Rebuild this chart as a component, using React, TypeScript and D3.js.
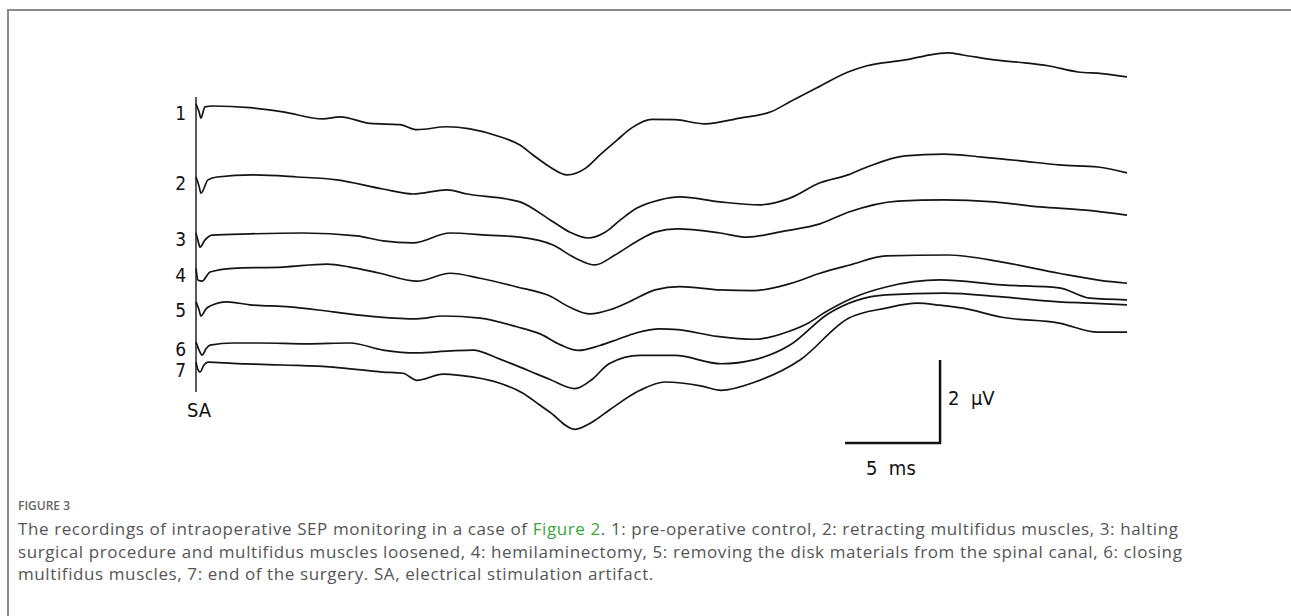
import * as d3 from "d3";
import { useEffect, useRef } from "react";

// time (ms) vs amplitude (µV); each trace relative to its own start level
const trace1: [number, number][] = [
  [0, 0.07], [0.16, -0.12], [0.26, -0.27], [0.47, 0], [0.89, 0.02], [2.84, -0.02], [4.58, -0.12],
  [6.68, -0.29], [7.58, -0.24], [9.16, -0.4], [10.74, -0.43], [11.63, -0.55], [13.21, -0.48],
  [14.42, -0.53], [16.0, -0.72], [17.05, -0.92], [17.74, -1.16], [18.63, -1.45], [19.53, -1.64],
  [20.53, -1.47], [21.26, -1.16], [22.16, -0.8], [22.95, -0.5], [24.0, -0.3], [25.21, -0.31],
  [26.79, -0.41], [28.63, -0.27], [30.26, -0.12], [31.26, 0.12], [32.68, 0.46], [34.32, 0.84],
  [35.32, 0.99], [37.32, 1.13], [38.37, 1.23], [39.58, 1.3], [40.37, 1.25], [42.0, 1.13],
  [43.63, 1.06], [44.84, 0.99], [46.42, 0.84], [47.68, 0.8], [49.0, 0.72],
];
const trace2: [number, number][] = [
  [0, 0], [0.16, -0.22], [0.26, -0.39], [0.63, -0.07], [1.11, 0], [3.0, 0.05], [5.32, 0],
  [7.42, -0.07], [9.84, -0.29], [11.42, -0.41], [13.21, -0.31], [14.26, -0.41], [16.37, -0.53],
  [17.05, -0.6], [18.79, -1.08], [19.68, -1.33], [20.63, -1.47], [21.53, -1.33], [22.32, -1.04],
  [23.21, -0.75], [24.42, -0.55], [25.47, -0.48], [27.58, -0.6], [29.68, -0.67], [31.26, -0.51],
  [32.84, -0.14], [34.32, 0.05], [35.32, 0.24], [37.32, 0.51], [39.37, 0.55], [41.37, 0.48],
  [43.42, 0.39], [45.42, 0.29], [47.47, 0.24], [49.0, 0.1],
];
const trace3: [number, number][] = [
  [0, 0], [0.11, -0.19], [0.21, -0.34], [0.47, -0.17], [0.84, -0.05], [2.84, -0.02], [5.63, 0],
  [8.47, -0.07], [9.84, -0.19], [11.42, -0.24], [13.37, 0], [15.32, -0.05], [17.05, -0.1],
  [18.79, -0.29], [19.95, -0.6], [21.0, -0.77], [22.05, -0.53], [23.21, -0.2], [24.16, 0.02],
  [25.32, 0.1], [27.58, 0], [29.0, -0.1], [31.0, 0.05], [32.84, 0.22], [34.32, 0.5],
  [36.95, 0.77], [39.37, 0.8], [42.0, 0.75], [44.42, 0.63], [46.84, 0.55], [49.0, 0.43],
];
const trace4: [number, number][] = [
  [0, 0.02], [0.11, -0.27], [0.32, -0.29], [0.74, -0.07], [1.95, 0.02], [4.58, 0.05], [6.89, 0.12],
  [8.11, 0.05], [9.68, -0.1], [11.63, -0.29], [13.37, -0.1], [14.95, -0.22], [16.89, -0.43],
  [18.63, -0.65], [19.68, -0.92], [20.74, -1.08], [21.79, -0.98], [22.84, -0.78], [24.16, -0.5],
  [25.47, -0.42], [27.58, -0.5], [29.32, -0.52], [31.26, -0.35], [32.84, -0.1], [34.42, 0.1],
  [36.32, 0.32], [39.58, 0.34], [42.42, 0.17], [45.42, -0.1], [47.58, -0.27], [49.0, -0.34],
];
const trace5: [number, number][] = [
  [0, 0.05], [0.16, -0.14], [0.26, -0.29], [0.53, -0.12], [0.74, -0.05], [1.63, 0.05], [2.84, -0.02],
  [4.95, -0.07], [7.21, -0.19], [9.53, -0.31], [11.63, -0.36], [13.0, -0.29], [14.95, -0.34],
  [16.89, -0.55], [18.11, -0.72], [19.16, -0.98], [20.11, -1.12], [21.26, -1.0], [22.21, -0.85],
  [23.16, -0.7], [24.42, -0.6], [25.37, -0.62], [27.42, -0.78], [29.42, -0.85], [31.26, -0.65],
  [32.26, -0.45], [33.11, -0.2], [34.68, 0.17], [36.32, 0.41], [39.16, 0.58], [42.42, 0.46],
  [45.42, 0.39], [47.05, 0.14], [49.0, 0.1],
];
const trace6: [number, number][] = [
  [0, 0.02], [0.16, -0.17], [0.32, -0.29], [0.53, -0.14], [0.74, -0.05], [1.95, 0], [3.37, 0],
  [5.84, -0.02], [8.11, 0], [9.84, -0.17], [11.63, -0.24], [13.37, -0.19], [14.58, -0.17],
  [16.0, -0.39], [17.42, -0.65], [18.63, -0.88], [19.95, -1.1], [20.84, -0.88], [21.74, -0.5],
  [23.37, -0.3], [25.21, -0.3], [27.63, -0.5], [29.42, -0.4], [31.26, -0.05], [33.26, 0.7],
  [36.32, 1.16], [39.37, 1.2], [42.42, 1.11], [45.42, 0.99], [47.05, 0.96], [49.0, 0.92],
];
const trace7: [number, number][] = [
  [0, 0.05], [0.11, -0.14], [0.21, -0.19], [0.42, -0.02], [0.63, 0.05], [1.95, 0.02], [4.58, -0.02],
  [7.21, -0.07], [9.84, -0.19], [10.89, -0.22], [11.63, -0.39], [13.0, -0.24], [13.89, -0.27],
  [16.0, -0.46], [17.21, -0.7], [18.11, -0.99], [18.63, -1.16], [19.95, -1.57], [20.84, -1.4],
  [21.74, -1.11], [23.37, -0.63], [24.68, -0.43], [26.63, -0.53], [27.63, -0.63], [29.42, -0.43],
  [31.79, 0.1], [34.32, 1.1], [36.32, 1.35], [37.95, 1.47], [39.16, 1.42], [40.37, 1.35],
  [42.42, 1.13], [45.42, 0.99], [47.47, 0.77], [49.0, 0.77],
];

const traces = [trace1, trace2, trace3, trace4, trace5, trace6, trace7];
const traceLabels = ["1", "2", "3", "4", "5", "6", "7"];
// vertical stacking of the recordings, in µV
const traceBaselines = [8.1, 6.41, 5.06, 4.19, 3.35, 2.41, 1.9];

const sweepMs = [0, 49];
const scaleBarMs = 5;
const scaleBarUv = 2;

const captionTitle = "FIGURE 3";
const captionLines = [
  ["The recordings of intraoperative SEP monitoring in a case of ", "Figure 2", ". 1: pre-operative control, 2: retracting multifidus muscles, 3: halting"],
  ["surgical procedure and multifidus muscles loosened, 4: hemilaminectomy, 5: removing the disk materials from the spinal canal, 6: closing"],
  ["multifidus muscles, 7: end of the surgery. SA, electrical stimulation artifact."],
];

const W = 1291;
const H = 616;
const narrow = "'Liberation Sans Narrow', 'Arial Narrow', 'DejaVu Sans Condensed', sans-serif";

export default function App() {
  const ref = useRef<SVGSVGElement | null>(null);

  useEffect(() => {
    if (!ref.current) return;
    const svg = d3.select(ref.current);
    svg.selectAll("*").remove();

    svg.append("rect").attr("width", W).attr("height", H).attr("fill", "#fff");

    /* frame */
    svg
      .append("path")
      .attr("d", `M8,${H} L8,10 L${W},10`)
      .attr("fill", "none")
      .attr("stroke", "#8a8a8a")
      .attr("stroke-width", 2);

    /* scales */
    const x = d3.scaleLinear().domain(sweepMs).range([196, 1127]);
    const y = d3.scaleLinear().domain([0, scaleBarUv]).range([443, 360]);

    const line = d3
      .line<[number, number]>()
      .x((d) => x(d[0]))
      .y((d) => y(d[1]))
      .curve(d3.curveMonotoneX);

    /* stimulus artifact marker */
    svg
      .append("line")
      .attr("x1", x(0))
      .attr("x2", x(0))
      .attr("y1", 97)
      .attr("y2", 392)
      .attr("stroke", "#222")
      .attr("stroke-width", 1.5);

    svg
      .append("text")
      .attr("x", 187)
      .attr("y", 417)
      .style("font-family", narrow)
      .style("font-size", "20px")
      .style("fill", "#111")
      .text("SA");

    /* traces */
    const g = svg.append("g");
    traces.forEach((tr, i) => {
      const base = traceBaselines[i];
      g.append("path")
        .datum(tr.map((d) => [d[0], d[1] + base] as [number, number]))
        .attr("d", line)
        .attr("fill", "none")
        .attr("stroke", "#141414")
        .attr("stroke-width", 1.7)
        .attr("stroke-linejoin", "round");

      g.append("text")
        .attr("x", 186)
        .attr("y", y(base) + 13)
        .attr("text-anchor", "end")
        .style("font-family", narrow)
        .style("font-size", "19px")
        .style("fill", "#111")
        .text(traceLabels[i]);
    });

    /* calibration bar */
    const barX = x(39.16);
    svg
      .append("path")
      .attr("d", `M${x(39.16 - scaleBarMs)},${y(0)} L${barX},${y(0)} L${barX},${y(scaleBarUv)}`)
      .attr("fill", "none")
      .attr("stroke", "#111")
      .attr("stroke-width", 2.5);

    svg
      .append("text")
      .attr("x", barX + 8)
      .attr("y", 405)
      .attr("xml:space", "preserve")
      .style("font-family", narrow)
      .style("font-size", "20px")
      .style("fill", "#111")
      .text(`${scaleBarUv}  µV`);

    svg
      .append("text")
      .attr("x", 866)
      .attr("y", 475)
      .attr("xml:space", "preserve")
      .style("font-family", narrow)
      .style("font-size", "20px")
      .style("fill", "#111")
      .text(`${scaleBarMs}  ms`);

    /* caption */
    svg
      .append("text")
      .attr("x", 18)
      .attr("y", 510)
      .style("font-family", "'Open Sans', sans-serif")
      .style("font-size", "12px")
      .style("font-weight", 600)
      .style("fill", "#666")
      .text(captionTitle);

    captionLines.forEach((parts, i) => {
      const t = svg
        .append("text")
        .attr("x", 18)
        .attr("y", 535 + i * 22.5)
        .style("font-family", "'Open Sans', sans-serif")
        .style("font-size", "17px")
        .style("letter-spacing", "0.6px")
        .style("fill", "#555");
      parts.forEach((p, j) => {
        t.append("tspan")
          .style("fill", j === 1 ? "#3aa53a" : "#555")
          .text(p);
      });
    });
  }, []);

  return (
    <svg
      ref={ref}
      width={W}
      height={H}
      style={{ position: "absolute", left: 0, top: 0, display: "block" }}
    />
  );
}
